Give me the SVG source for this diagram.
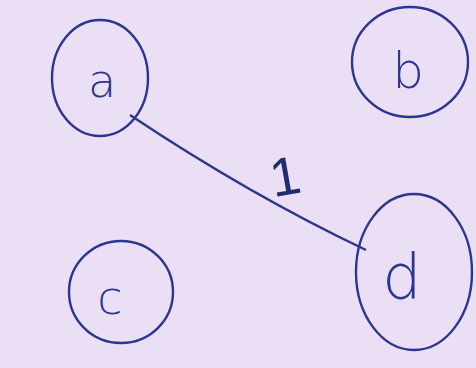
<svg xmlns="http://www.w3.org/2000/svg" width="476" height="368" viewBox="0 0 476 368">
<style>
.node ellipse{fill:none;stroke:#2b3592;stroke-width:2.4}
.lbl{font-family:"DejaVu Sans",sans-serif;font-size:46px;fill:#2b3592;text-anchor:middle;font-weight:300}
.edge{stroke:#2b3592;stroke-width:2.4;fill:none}
.elbl{font-family:"Liberation Sans",sans-serif;font-size:54px;fill:#222a70;text-anchor:middle}
</style>
<rect width="476" height="368" fill="#eadff4"/>
<g id="connectors">
<path class="edge" d="M130 115 Q250 195 366 250"/>
<text class="elbl" x="284" y="195" transform="rotate(-10 284 170)">1</text>
</g>
<g id="node-a" class="node"><ellipse cx="100" cy="78" rx="48" ry="58"/><text class="lbl" x="102" y="97">a</text></g>
<g id="node-b" class="node"><ellipse cx="410" cy="62" rx="58" ry="55"/><text class="lbl" x="408" y="88" style="font-size:50px">b</text></g>
<g id="node-c" class="node"><ellipse cx="121" cy="292" rx="52" ry="51"/><text class="lbl" x="110" y="314">c</text></g>
<g id="node-d" class="node"><ellipse cx="414" cy="272" rx="58" ry="78"/><text class="lbl" x="402" y="298" style="font-size:62px">d</text></g>
</svg>
